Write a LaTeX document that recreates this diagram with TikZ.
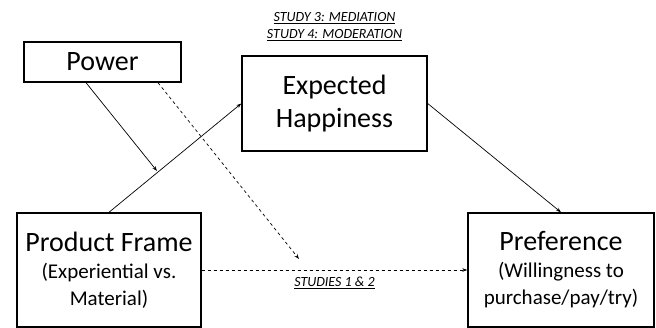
\documentclass[tikz,border=0pt]{standalone}
\usepackage{fontspec}
\setmainfont{Carlito}
\usetikzlibrary{arrows.meta}
\begin{document}
\begin{tikzpicture}
            [x=1pt, y=-1pt,
             box/.style = {draw, line width=1.4pt, inner sep=0pt, align=center,
                           font=\fontsize{21}{27}\selectfont},
             link/.style = {line width=0.7pt, -{Stealth[length=5pt, width=3.5pt]}},
             note/.style = {font=\fontsize{14}{17}\selectfont\itshape, align=center}]
            \useasboundingbox (0,0) rectangle (656,328);
            \node[box, minimum width=157pt, minimum height=40pt] (power) at (102.5,62)
                {\fontsize{28}{31}\selectfont Power};
            \node[box, minimum width=185pt, minimum height=95pt, font=\fontsize{28}{33}\selectfont]
                (happy) at (334.5,103.5) {Expected\\Happiness};
            \node[box, minimum width=184pt, minimum height=114pt] (frame) at (109,270)
                {{\fontsize{28}{27}\selectfont Product Frame}\\(Experiential vs.\\Material)};
            \node[box, minimum width=186pt, minimum height=114pt] (pref) at (561,270)
                {{\fontsize{28}{27}\selectfont Preference}\\(Willingness to\\purchase/pay/try)};
            \node[note] (med) at (334.5,27) {\underline{STUDY 3: MEDIATION}\\\underline{STUDY 4: MODERATION}};
            \coordinate (modA) at (157,171);
            \coordinate (modB) at (299,259);
            \draw[link] ([xshift=-16.5pt]power.south) -- (modA);
            \draw[link, dashed] ([xshift=55.5pt]power.south) -- (modB);
            \draw[link] (frame.north) -- (happy.west);
            \draw[link] (happy.east) -- (pref.north);
            \draw[link, dashed] (frame.east) -- node[note, below=3pt] (studies) {\underline{STUDIES 1 \& 2}} (pref.west);
        \end{tikzpicture}
\end{document}
